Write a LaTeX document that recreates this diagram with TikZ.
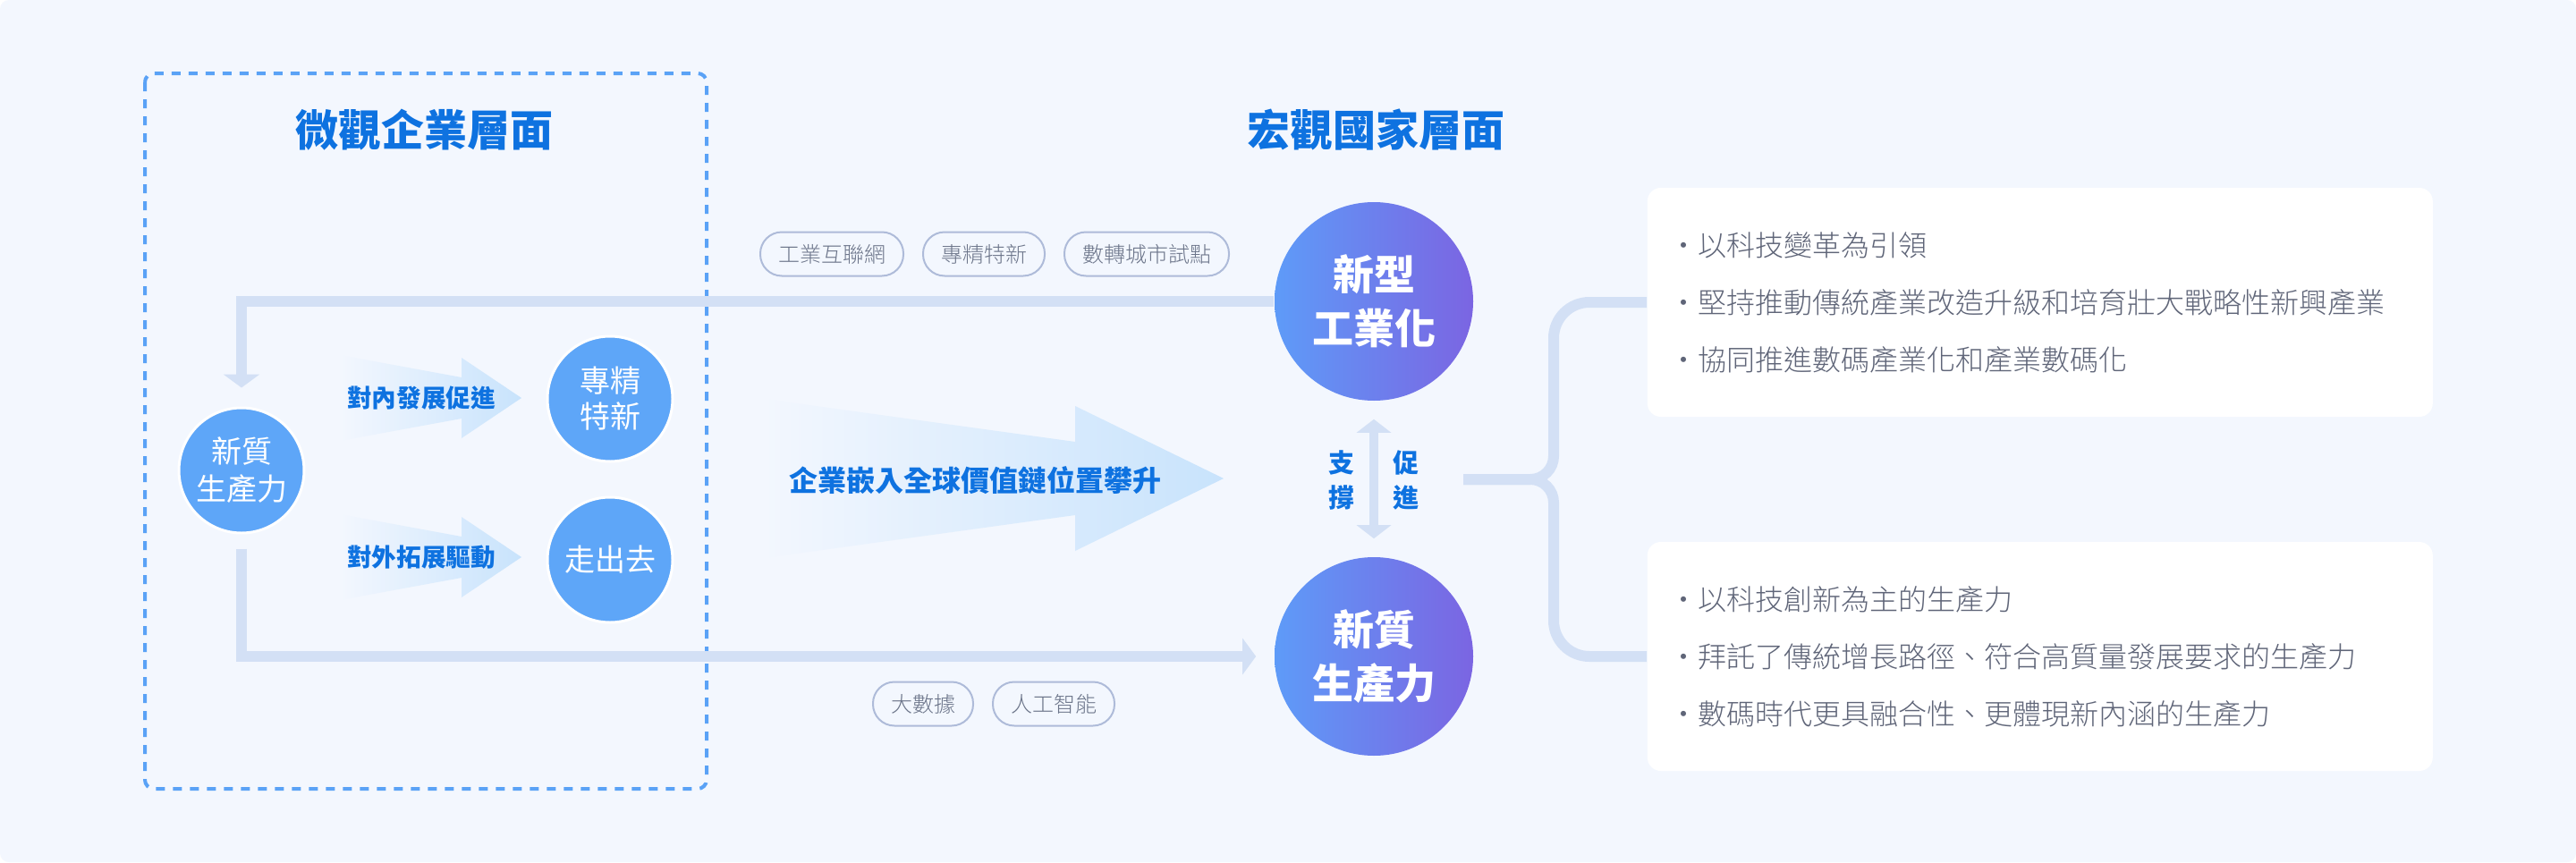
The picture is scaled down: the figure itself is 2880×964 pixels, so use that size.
\documentclass[tikz,border=0pt]{standalone}
\usepackage{fontspec}
\setmainfont{Noto Sans CJK TC}
\IfFontExistsTF{Noto Sans CJK TC Black}
    {\newfontfamily\heavyfont{Noto Sans CJK TC Black}}
    {\newfontfamily\heavyfont{Noto Sans CJK TC}[UprightFeatures={FakeBold=1.6}, UprightFont=* Bold]}
\IfFontExistsTF{Noto Sans CJK TC Light}
    {\newfontfamily\lightfont{Noto Sans CJK TC Light}}
    {\newfontfamily\lightfont{Noto Sans CJK TC}}
\usepackage{xcolor}
\usepackage{tikz}
\usetikzlibrary{shapes,positioning,calc,arrows.meta}

\definecolor{bgblue}{HTML}{F3F7FE}
\definecolor{boxblue}{HTML}{5AA2F6}
\definecolor{titleblue}{HTML}{0E72E0}
\definecolor{dotblue}{HTML}{5EA6F8}
\definecolor{linegray}{HTML}{D3E0F5}
\definecolor{arrowblue}{HTML}{C8E3FC}
\definecolor{arrowmid}{HTML}{E3E9FB}
\definecolor{gradleft}{HTML}{5E9BF8}
\definecolor{gradright}{HTML}{7B65E2}
\definecolor{tagedge}{HTML}{AEBBD9}
\definecolor{taggray}{HTML}{6B7489}
\definecolor{cardgray}{HTML}{5F6578}

\begin{document}
\begin{tikzpicture}[x=0.25pt,y=-0.25pt,
    conn/.style={line width=3pt, draw=linegray},
    tip/.style={-{Triangle[length=3.75pt,width=10pt]}},
    title/.style={font=\fontsize{12}{14}\selectfont\heavyfont, text=titleblue},
    smallball/.style={circle, fill=dotblue, draw=white, line width=0.75pt, minimum size=35pt, inner sep=0pt,
        text=white, align=center, font=\fontsize{8.5}{10.5}\selectfont},
    bigball/.style={circle, left color=gradleft, right color=gradright, minimum size=55.5pt, inner sep=0pt,
        text=white, align=center, font=\fontsize{11.5}{15}\selectfont\bfseries},
    arrowtext/.style={text=titleblue, font=\fontsize{6.9}{8}\selectfont\bfseries},
    tag/.style={draw=tagedge, line width=0.5pt, rounded corners=6pt, fill=bgblue, text=taggray,
        font=\fontsize{6}{7}\selectfont\lightfont, minimum height=12.25pt, inner xsep=5pt, inner ysep=0pt},
    card/.style={fill=white, rounded corners=3.75pt, minimum width=219.5pt, minimum height=64pt,
        text width=207pt, inner xsep=6.25pt, align=left, text=cardgray, font=\fontsize{8}{16}\selectfont\lightfont},
    node distance=5pt]

    % Background
    \useasboundingbox (0,0) rectangle (2880,964);
    \fill[white] (0,0) rectangle (2880,964);
    \fill[bgblue, rounded corners=2.5pt] (0,0) rectangle (2880,964);

    % Micro level frame
    \draw[boxblue, line width=1pt, dash pattern=on 2.5pt off 2.25pt, rounded corners=2.5pt] (162,82) rectangle (790,882);
    \node[title] (tmicro) at (474,145) {微觀企業層面};
    \node[title] (tmacro) at (1538,145) {宏觀國家層面};

    % Fading arrows
    \foreach \yc/\lbl/\nm in {445/對內發展促進/inward, 623/對外拓展驅動/outward}
    {
        \shade[left color=bgblue, middle color=arrowmid, right color=arrowblue]
            (380,\yc-48) -- (516,\yc-23) -- (516,\yc-45) -- (583,\yc) -- (516,\yc+45) -- (516,\yc+23) -- (380,\yc+48) -- cycle;
        \node[arrowtext] (\nm) at (471,\yc) {\lbl};
    }
    \shade[left color=bgblue, middle color=arrowmid, right color=arrowblue]
        (854,446) -- (1202,494) -- (1202,454) -- (1368,535) -- (1202,616) -- (1202,576) -- (854,624) -- cycle;
    \node[arrowtext, font=\fontsize{8}{9}\selectfont\bfseries] (embed) at (1090,537) {企業嵌入全球價值鏈位置攀升};

    % Circles
    \node[smallball] (lq) at (270,526) {新質\\生產力};
    \node[smallball, font=\fontsize{8.5}{10}\selectfont] (zjtx) at (682,446) {專精\\特新};
    \node[smallball] (zcq) at (682,626) {走出去};
    \node[bigball] (xxgy) at (1536,337) {新型\\工業化};
    \node[bigball] (xzscl) at (1536,734) {新質\\生產力};

    % Connectors
    \draw[conn, tip, shorten >=5.25pt] (xxgy.west) -| (lq.north);
    \draw[conn, tip, shorten <=4pt, shorten >=5pt] (lq.south) |- (xzscl.west);
    \draw[line width=2.5pt, draw=linegray, {Triangle[length=3.75pt,width=9.5pt]}-{Triangle[length=3.75pt,width=9.5pt]},
        shorten <=5pt, shorten >=5pt] (xxgy.south) -- (xzscl.north);
    \node[arrowtext, font=\fontsize{7.25}{9.75}\selectfont\bfseries, align=center] (zc) at (1500,537) {支\\撐};
    \node[arrowtext, font=\fontsize{7.25}{9.75}\selectfont\bfseries, align=center] (cj) at (1572,537) {促\\進};

    % Tags
    \node[tag] (t1) at (930,284) {工業互聯網};
    \node[tag, right=of t1] (t2) {專精特新};
    \node[tag, right=of t2] (t3) {數轉城市試點};
    \node[tag] (t4) at (1032,787) {大數據};
    \node[tag, right=of t4] (t5) {人工智能};

    % Brace
    \coordinate (brst) at (1636,536);
    \coordinate (cardAw) at (1841,338);
    \coordinate (cardBw) at (1841,734);
    \draw[conn, rounded corners=10pt] (cardAw) -- (1737,338) [rounded corners=6.5pt] -- (1737,536) -- (brst);
    \draw[conn, rounded corners=6.5pt] (brst) -- (1737,536) [rounded corners=10pt] -- (1737,734) -- (cardBw);

    % Cards
    \node[card, anchor=west] (cardA) at (cardAw) {・以科技變革為引領\\・堅持推動傳統產業改造升級和培育壯大戰略性新興產業\\・協同推進數碼產業化和產業數碼化};
    \node[card, anchor=west] (cardB) at (cardBw) {・以科技創新為主的生產力\\・拜託了傳統增長路徑、符合高質量發展要求的生產力\\・數碼時代更具融合性、更體現新內涵的生產力};
\end{tikzpicture}
\end{document}
